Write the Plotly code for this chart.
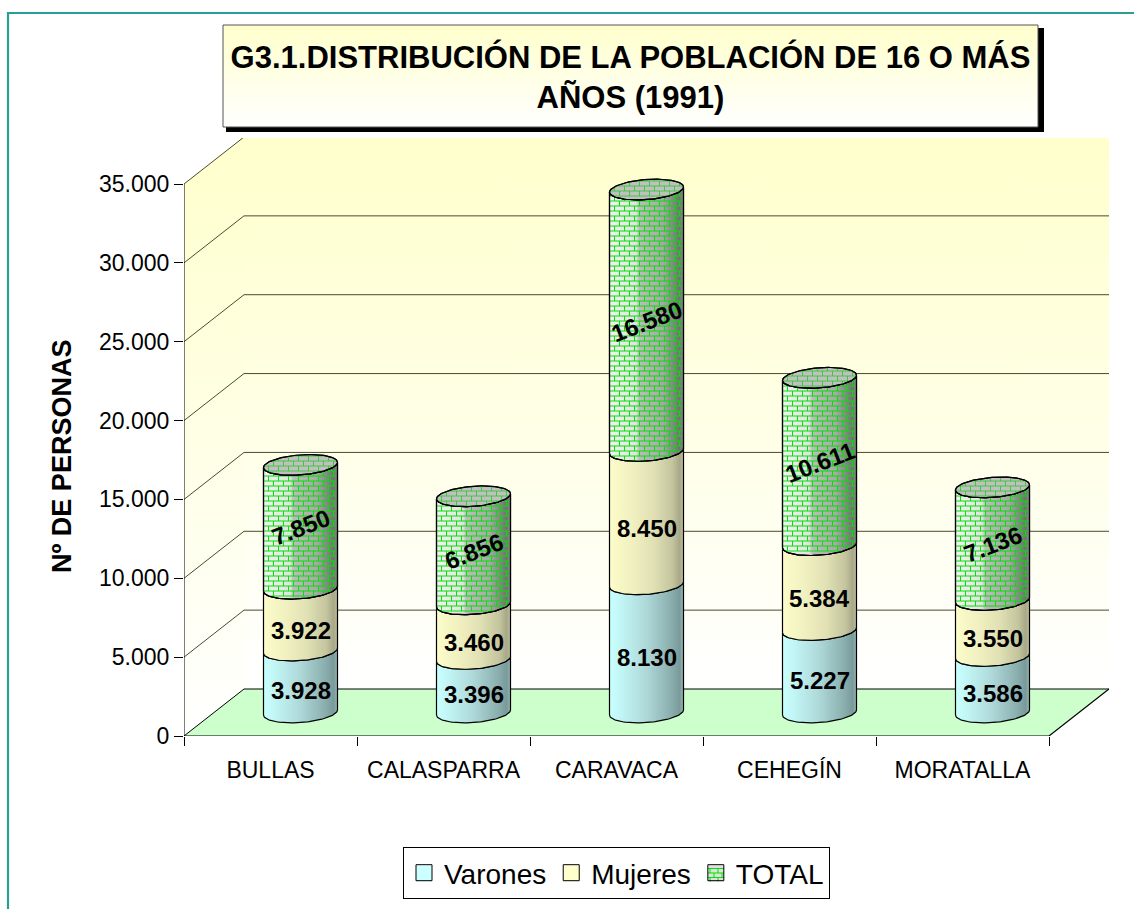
import numpy as np
import plotly.graph_objects as go

# ---------- data ----------
categories = ["BULLAS", "CALASPARRA", "CARAVACA", "CEHEGÍN", "MORATALLA"]
varones = [3928, 3396, 8130, 5227, 3586]
mujeres = [3922, 3460, 8450, 5384, 3550]
total = [7850, 6856, 16580, 10611, 7136]
y_ticks = [0, 5000, 10000, 15000, 20000, 25000, 30000, 35000]
y_tick_labels = ["0", "5.000", "10.000", "15.000", "20.000", "25.000", "30.000", "35.000"]
series_names = ["Varones", "Mujeres", "TOTAL"]
title_text = "G3.1.DISTRIBUCIÓN DE LA POBLACIÓN DE 16 O MÁS<br>AÑOS (1991)"
y_title = "Nº DE PERSONAS"

# ---------- page geometry ----------
W, H = 1134, 909
FONT = "Liberation Sans"
X0, X_END, X_WALL = 184.0, 1049.0, 1109.0   # front-left, front-right, back-right px
Y0, Y_TOP = 736.0, 138.0                    # baseline, top of back wall px
PX_PER_CAT = (X_END - X0) / len(categories)
PX_PER_UNIT = 552.0 / 35000.0
DEPTH_X, DEPTH_Y = 60.0, 47.0

DX = DEPTH_X / PX_PER_CAT
DY = DEPTH_Y / PX_PER_UNIT
x_lo, x_hi = -0.5, len(categories) - 0.5
x_axis_hi = x_lo + (X_WALL - X0) / PX_PER_CAT
y_axis_hi = (Y0 - Y_TOP) / PX_PER_UNIT

fig = go.Figure()


def poly(xs, ys, stops, kind, line=None, ax=("x", "y")):
    """Filled polygon with gradient."""
    fig.add_trace(go.Scatter(
        x=list(xs), y=list(ys), xaxis=ax[0], yaxis=ax[1], mode="lines", fill="toself",
        fillgradient=dict(type=kind, colorscale=stops),
        line=line or dict(width=0, color="rgba(0,0,0,0)"),
        hoverinfo="skip", showlegend=False, cliponaxis=False,
    ))


def path(xs, ys, color="#000000", width=1.0, ax=("x", "y")):
    fig.add_trace(go.Scatter(
        x=list(xs), y=list(ys), xaxis=ax[0], yaxis=ax[1], mode="lines",
        line=dict(color=color, width=width), hoverinfo="skip",
        showlegend=False, cliponaxis=False, connectgaps=False,
    ))


# ---------- walls and floor ----------
wall_grad = [[0, "#ffffff"], [1, "#ffffcc"]]
poly([x_lo + DX, x_hi + DX, x_hi + DX, x_lo + DX, x_lo + DX],
     [DY, DY, y_ticks[-1] + DY, y_ticks[-1] + DY, DY], wall_grad, "vertical")
poly([x_lo, x_lo + DX, x_lo + DX, x_lo, x_lo],
     [0, DY, y_ticks[-1] + DY, y_ticks[-1], 0],
     wall_grad, "vertical")
poly([x_lo, x_lo + DX, x_hi + DX, x_hi, x_lo], [0, DY, DY, 0, 0],
     [[0, "#ccffcc"], [1, "#ccffcc"]], "vertical")

# gridlines and axes
for t in y_ticks:
    path([x_lo, x_lo + DX, x_hi + DX], [t, t + DY, t + DY],
         color="#000000" if t == 0 else "#4a4a30", width=1)
path([x_lo, x_lo], [0, y_ticks[-1]], color="#000000", width=1)
path([x_lo, x_hi, x_hi + DX], [0, 0, DY], color="#000000", width=1.2)

# ---------- cylinders ----------
HALF_W = 37.0 / PX_PER_CAT
HALF_H = 10.0 / PX_PER_UNIT
TILT = 2.6 / PX_PER_UNIT
t_front = np.linspace(np.pi, 2 * np.pi, 60)
t_full = np.linspace(0, 2 * np.pi, 120)


def ellipse(cx, cy, t):
    # sin<0 => front (lower on the page)
    return cx + HALF_W * np.cos(t), cy + HALF_H * np.sin(t) + TILT * np.cos(t)


grad_var = [[0, "#c8ffff"], [0.12, "#c4f8f8"], [0.5, "#aed8d8"], [0.82, "#8cb0b0"], [0.95, "#7a9a9a"], [1, "#98b8b8"]]
grad_muj = [[0, "#fdfdcb"], [0.3, "#f0f0c0"], [0.6, "#e0e0b4"], [0.85, "#c4c49e"], [0.95, "#a8a888"], [1, "#c0c0a0"]]
grad_tot = [[0, "#f2f2f2"], [0.36, "#e2e2e2"], [0.4, "#bcbcbc"], [0.72, "#a8a8a8"], [0.95, "#707070"], [1, "#909090"]]
grad_cap = [[0, "#c0c0c0"], [1, "#c0c0c0"]]
GREEN = "#00e400"
ROW, BRICK = 5.0 / PX_PER_UNIT, 10.0 / PX_PER_CAT


def bricks(cx, low, high, cap=False):
    """Brick hatch: screen-aligned rows clipped to the cylinder segment."""
    xs, ys = [], []
    n_x = np.arange(cx - HALF_W, cx + HALF_W, 1.0 / PX_PER_CAT)
    u = (n_x - cx) / HALF_W
    root = np.sqrt(np.clip(1 - u * u, 0, 1)) * HALF_H
    if cap:
        lower, upper = high - root + TILT * u, high + root + TILT * u
    else:
        lower, upper = low - root + TILT * u, high - root + TILT * u
    first = np.ceil(lower.min() / ROW)
    last = np.floor(upper.max() / ROW)
    for k in np.arange(first, last + 1):
        yv = k * ROW
        inside = (lower <= yv) & (yv <= upper)
        if inside.any():
            xs += [n_x[inside][0], n_x[inside][-1], None]
            ys += [yv, yv, None]
        shift = 0.5 * BRICK if int(k) % 2 else 0.0
        for xv in np.arange(cx - HALF_W + shift + 1e-6, cx + HALF_W, BRICK):
            i = int(np.argmin(np.abs(n_x - xv)))
            lo_v = max(yv, lower[i])
            hi_v = min(yv + ROW, upper[i])
            if hi_v > lo_v:
                xs += [xv, xv, None]
                ys += [lo_v, hi_v, None]
    return xs, ys


grads = [grad_var, grad_muj, grad_tot]
series = [varones, mujeres, total]
shifts = [-9, -11, -1]
angles = [0, 0, -21]
annotations = []
for i, cat in enumerate(categories):
    cx = i + DEPTH_X / 2 / PX_PER_CAT
    base = DY / 2
    low = base
    for s, vals in enumerate(series):
        high = low + vals[i]
        bx, by = ellipse(cx, low, t_front)
        tx, ty = ellipse(cx, high, t_front)
        px = list(bx) + list(tx[::-1]) + [bx[0]]
        py = list(by) + list(ty[::-1]) + [by[0]]
        poly(px, py, grads[s], "horizontal", line=dict(color="#000000", width=1.2))
        if s == 2:
            hx, hy = bricks(cx, low, high)
            path(hx, hy, color=GREEN, width=1)
            path(px, py, color="#000000", width=1.2)
            cap_x, cap_y = ellipse(cx, high, t_full)
            poly(cap_x, cap_y, grad_cap, "horizontal", line=dict(color="#000000", width=1.2))
            hx, hy = bricks(cx, low, high, cap=True)
            path(hx, hy, color="#22cc22", width=0.8)
            path(cap_x, cap_y, color="#000000", width=1.2)
        annotations.append(dict(
            x=cx, y=(low + high) / 2, xref="x", yref="y",
            text="<b>" + f"{vals[i]:,}".replace(",", ".") + "</b>",
            showarrow=False, textangle=angles[s], yshift=shifts[s],
            font=dict(family=FONT, size=24, color="#000000"),
        ))
        low = high

# y axis title
annotations.append(dict(
    x=62 / W, y=1 - 457 / H, xref="paper", yref="paper", xanchor="center", yanchor="middle",
    text="<b>" + y_title + "</b>",
    showarrow=False, textangle=-90, font=dict(family=FONT, size=27, color="#000000"),
))

# ---------- decoration on a full-page pixel axis ----------
box_l, box_r, box_t, box_b = 223, 1038, 25, 127
sh = 5
poly([box_l + 3, box_r + sh + 1, box_r + sh + 1, box_l + 3, box_l + 3],
     [box_t + 3, box_t + 3, box_b + sh, box_b + sh, box_t + 3],
     [[0, "#000000"], [1, "#000000"]], "vertical", ax=("x2", "y2"))
poly([box_l, box_r, box_r, box_l, box_l], [box_t, box_t, box_b, box_b, box_t],
     [[0, "#ffffff"], [1, "#ffffcc"]], "vertical",
     line=dict(color="#555555", width=1), ax=("x2", "y2"))
path([8, 8, W], [H, 13, 13], color="#2a9d94", width=2.2, ax=("x2", "y2"))

# legend swatches: drawn beneath the see-through legend so they can carry the brick hatch
swatch_centers = [424.0, 572.0, 716.0]
SW_Y, SW_R = 873.5, 8.0
legend_colors = ["#ccffff", "#ffffcc", "#e0e0e0"]
for cxp, col in zip(swatch_centers, legend_colors):
    poly([cxp - SW_R, cxp + SW_R, cxp + SW_R, cxp - SW_R, cxp - SW_R],
         [SW_Y - SW_R, SW_Y - SW_R, SW_Y + SW_R, SW_Y + SW_R, SW_Y - SW_R],
         [[0, col], [1, col]], "vertical", ax=("x2", "y2"))
cxp = swatch_centers[2]
sx, sy = [], []
for k, yy in enumerate(np.arange(SW_Y - SW_R + 3, SW_Y + SW_R, 4.5)):
    sx += [cxp - SW_R, cxp + SW_R, None]
    sy += [yy, yy, None]
    for xx in np.arange(cxp - SW_R + (4 if k % 2 else 0) + 2, cxp + SW_R, 8):
        sx += [xx, xx, None]
        sy += [yy, min(yy + 4.5, SW_Y + SW_R), None]
path(sx, sy, color=GREEN, width=1, ax=("x2", "y2"))

# ---------- legend-only entries ----------
for name in series_names:
    fig.add_trace(go.Scatter(
        x=[None], y=[None], name=name, mode="markers",
        marker=dict(symbol="square", size=16, color="rgba(0,0,0,0)", line=dict(color="#000000", width=1)),
    ))

fig.update_layout(
    width=W, height=H, autosize=False,
    margin=dict(l=0, r=0, t=0, b=0, autoexpand=False),
    paper_bgcolor="#ffffff", plot_bgcolor="rgba(0,0,0,0)",
    font=dict(family=FONT, color="#000000"),
    title=dict(
        text=title_text, x=(box_l + box_r) / 2 / W, xanchor="center",
        y=1 - 68 / H, yanchor="middle",
        font=dict(family=FONT, size=31, color="#000000", weight=700),
    ),
    xaxis=dict(
        domain=[X0 / W, X_WALL / W], range=[x_lo, x_axis_hi],
        tickmode="array", tickvals=list(range(len(categories))), ticktext=categories,
        ticks="outside", ticklen=13, tickcolor="rgba(0,0,0,0)",
        showgrid=False, zeroline=False, showline=False,
        tickfont=dict(family=FONT, size=23, color="#000000"),
        minor=dict(tickmode="array", tickvals=[k - 0.5 for k in range(len(categories) + 1)],
                   ticks="outside", ticklen=9, tickcolor="#000000", tickwidth=1, showgrid=False),
        fixedrange=True,
    ),
    yaxis=dict(
        domain=[1 - Y0 / H, 1 - Y_TOP / H], range=[0, y_axis_hi],
        tickmode="array", tickvals=y_ticks, ticktext=y_tick_labels,
        ticks="outside", ticklen=9, tickcolor="#000000", tickwidth=1,
        showgrid=False, zeroline=False, showline=False,
        tickfont=dict(family=FONT, size=23, color="#000000"),
        fixedrange=True,
    ),
    xaxis2=dict(domain=[0, 1], range=[0, W], visible=False, anchor="y2", fixedrange=True),
    yaxis2=dict(domain=[0, 1], range=[H, 0], visible=False, anchor="x2", fixedrange=True),
    showlegend=True,
    legend=dict(
        orientation="h", x=403 / W, xanchor="left", y=1 - 899 / H, yanchor="bottom",
        bgcolor="rgba(0,0,0,0)", bordercolor="#000000", borderwidth=1,
        font=dict(family=FONT, size=28, color="#000000"),
        itemclick=False, itemdoubleclick=False,
    ),
    annotations=annotations,
)

fig.write_html("out.html", config=dict(displayModeBar=False),
               post_script="document.body.style.margin='0';document.body.style.overflow='hidden';")
